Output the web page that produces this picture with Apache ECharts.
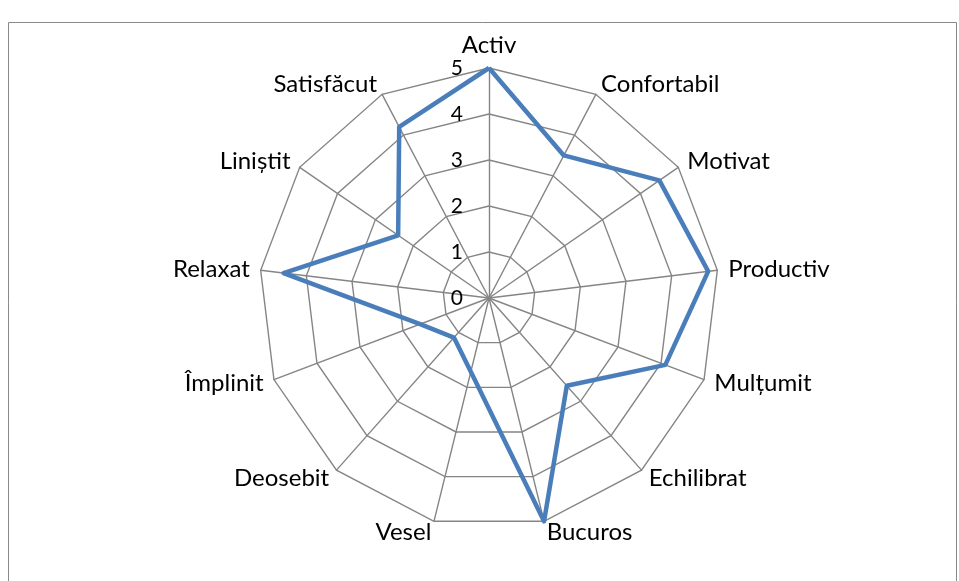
<!DOCTYPE html>
<html>
<head>
<meta charset="utf-8">
<script src="https://cdn.jsdelivr.net/npm/echarts@6/dist/echarts.min.js"></script>
<style>
  html, body { margin: 0; padding: 0; background: #fff; }
  #chart-container { width: 959px; height: 581px; }
</style>
</head>
<body>
<div id="chart-container"></div>
<script>
// data (clockwise from the top)
var categories = ["Activ", "Confortabil", "Motivat", "Productiv", "Mulțumit", "Echilibrat",
  "Bucuros", "Vesel", "Deosebit", "Împlinit", "Relaxat", "Liniștit", "Satisfăcut"];
var values = [5, 3.5, 4.5, 4.8, 4.1, 2.55, 5, 1.65, 1.15, 1.6, 4.5, 2.4, 4.2];
var tickLabels = ["0", "1", "2", "3", "4", "5"];
var maxValue = 5;

var dom = document.getElementById("chart-container");
var myChart = echarts.init(dom, null, { renderer: "canvas" });

// echarts lays indicators out counter-clockwise, so walk the list backwards after the first
var order = [0];
for (var i = categories.length - 1; i > 0; i--) order.push(i);

var indicators = order.map(function (idx, k) {
  var ind = { name: categories[idx], max: maxValue, min: 0 };
  if (k === 0) ind.axisLabel = { show: true };
  return ind;
});
var orderedValues = order.map(function (idx) { return values[idx]; });

var gray = "#858585";
var font = "Lato";

var option = {
  backgroundColor: "#fff",
  animation: false,
  graphic: [
    {
      type: "rect",
      shape: { x: 8.5, y: 22.5, width: 948, height: 620 },
      style: { fill: "none", stroke: "#898989", lineWidth: 1 },
      silent: true
    }
  ],
  radar: {
    center: [489, 298],
    radius: 230,
    startAngle: 90,
    splitNumber: 5,
    shape: "polygon",
    nameGap: 11,
    axisName: { color: "#000", fontSize: 24, fontFamily: font },
    axisLine: { show: true, lineStyle: { color: gray, width: 1.4 } },
    splitLine: { show: true, lineStyle: { color: gray, width: 1.4 } },
    splitArea: { show: false },
    axisTick: { show: false },
    axisLabel: {
      show: false,
      color: "#000",
      fontSize: 21,
      fontFamily: font,
      margin: 26,
      formatter: function (v) { return tickLabels[Math.round(v)]; }
    },
    indicator: indicators
  },
  series: [
    {
      type: "radar",
      symbol: "none",
      lineStyle: { color: "#4A7EBB", width: 4.5 },
      data: [{ value: orderedValues }]
    }
  ]
};

myChart.setOption(option);
</script>
</body>
</html>
